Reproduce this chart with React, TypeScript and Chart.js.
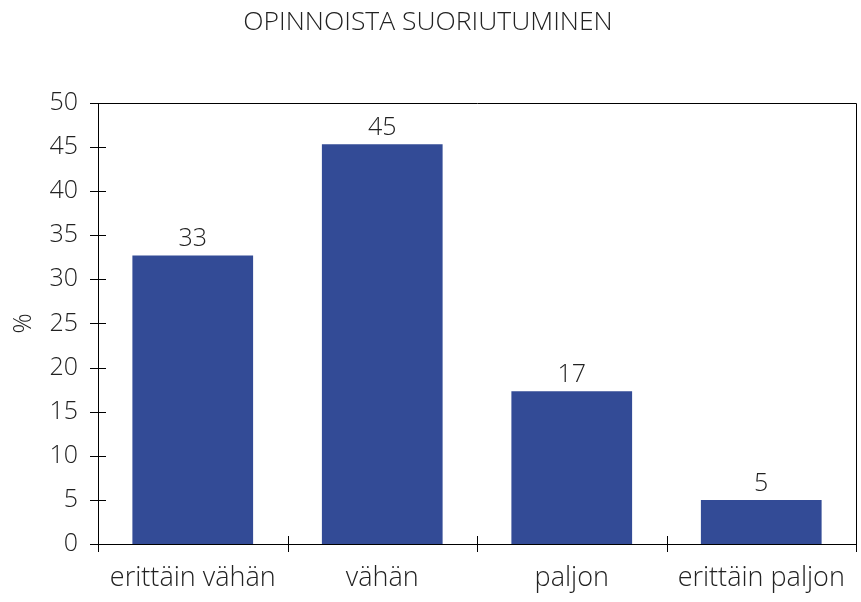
import React, { useEffect, useRef } from "react";
import { Chart, registerables } from "chart.js";

Chart.register(...registerables);

const categories = ["erittäin vähän", "vähän", "paljon", "erittäin paljon"];
const values = [32.7, 45.3, 17.3, 5.0];
const valueLabels = ["33", "45", "17", "5"];
const chartTitle = "OPINNOISTA SUORIUTUMINEN";
const yTitle = "%";

const FONT = "'Open Sans', 'Noto Sans', sans-serif";
const TEXT = "#222";

const framePlugin = {
  id: "frame",
  afterDatasetsDraw(chart: any) {
    const { ctx, chartArea } = chart;
    const { left, right, top, bottom } = chartArea;
    const ys = chart.scales.y;
    ctx.save();
    ctx.strokeStyle = "#000";
    ctx.lineWidth = 1;
    ctx.beginPath();
    ctx.rect(Math.round(left) + 0.5, Math.round(top) + 0.5, Math.round(right - left), Math.round(bottom - top));
    ctx.stroke();
    ys.ticks.forEach((t: any) => {
      const y = Math.round(ys.getPixelForValue(t.value)) + 0.5;
      ctx.beginPath();
      ctx.moveTo(left - 8, y);
      ctx.lineTo(left + 8, y);
      ctx.stroke();
    });
    const n = categories.length;
    const w = (right - left) / n;
    for (let i = 0; i <= n; i++) {
      const x = Math.round(left + i * w) + 0.5;
      ctx.beginPath();
      ctx.moveTo(x, bottom - 8);
      ctx.lineTo(x, bottom + 8);
      ctx.stroke();
    }
    ctx.fillStyle = TEXT;
    ctx.font = `300 25px ${FONT}`;
    ctx.textAlign = "center";
    ctx.textBaseline = "bottom";
    const meta = chart.getDatasetMeta(0);
    meta.data.forEach((bar: any, i: number) => {
      ctx.fillText(valueLabels[i], bar.x, bar.y - 4);
    });
    ctx.restore();
  },
};

export default function App() {
  const ref = useRef<HTMLCanvasElement>(null);
  useEffect(() => {
    document.body.style.margin = "0";
    const chart = new Chart(ref.current!, {
      type: "bar",
      data: {
        labels: categories,
        datasets: [
          {
            data: values,
            backgroundColor: "rgb(51,75,150)",
            categoryPercentage: 0.637,
            barPercentage: 1,
          },
        ],
      },
      options: {
        animation: false,
        responsive: false,
        layout: { padding: { left: 0, right: 5, top: 0, bottom: 0 } },
        plugins: {
          legend: { display: false },
          tooltip: { enabled: false },
          title: {
            display: true,
            text: chartTitle,
            color: TEXT,
            font: { family: FONT, size: 26.5, weight: "300" as any, lineHeight: 1.2 },
            padding: { top: 7, bottom: 64 },
          },
        },
        scales: {
          x: {
            grid: { display: false, drawTicks: false },
            border: { display: false },
            ticks: {
              color: TEXT,
              font: { family: FONT, size: 27, weight: "300" as any },
              padding: 18,
              maxRotation: 0,
              autoSkip: false,
            },
            afterFit(scale: any) {
              scale.height = 58;
              scale.paddingLeft = 0;
              scale.paddingRight = 0;
            },
          },
          y: {
            min: 0,
            max: 50,
            grid: { display: false, drawTicks: false },
            border: { display: false },
            ticks: {
              stepSize: 5,
              color: TEXT,
              font: { family: FONT, size: 25, weight: "300" as any },
              padding: 20,
            },
            title: {
              display: true,
              text: yTitle,
              color: TEXT,
              font: { family: FONT, size: 25, weight: "300" as any },
              padding: { top: 9, bottom: 0 },
            },
            afterFit(scale: any) {
              scale.width = 98;
              scale.paddingTop = 0;
              scale.paddingBottom = 0;
            },
          },
        },
      },
      plugins: [framePlugin],
    });
    return () => chart.destroy();
  }, []);
  return <canvas ref={ref} width={861} height={602} style={{ display: "block" }} />;
}
